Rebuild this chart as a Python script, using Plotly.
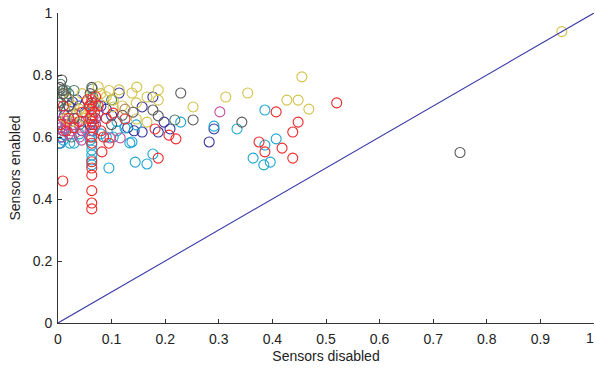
import plotly.graph_objects as go

# ---- data ----
navy_x = [0.005, 0.010, 0.015, 0.020, 0.027, 0.035, 0.040, 0.050, 0.060, 0.065, 0.070, 0.080, 0.090, 0.100,
          0.114, 0.157, 0.177, 0.198, 0.187, 0.157, 0.209, 0.282, 0.291, 0.142, 0.130, 0.003, 0.012, 0.045]
navy_y = [0.600, 0.620, 0.640, 0.700, 0.713, 0.720, 0.700, 0.680, 0.640, 0.620, 0.660, 0.700, 0.690, 0.670,
          0.742, 0.697, 0.729, 0.648, 0.616, 0.616, 0.626, 0.584, 0.626, 0.620, 0.630, 0.580, 0.670, 0.620]

cyan_x = [0.063, 0.063, 0.063, 0.063, 0.063, 0.095, 0.103, 0.125, 0.134, 0.146, 0.138, 0.144, 0.166, 0.177,
          0.229, 0.334, 0.291, 0.386, 0.407, 0.386, 0.364, 0.396, 0.384, 0.005, 0.005, 0.010, 0.022, 0.030,
          0.060, 0.065, 0.063, 0.070, 0.080, 0.090, 0.015, 0.040, 0.110, 0.110, 0.060, 0.066]
cyan_y = [0.574, 0.558, 0.542, 0.526, 0.510, 0.500, 0.600, 0.629, 0.581, 0.639, 0.584, 0.519, 0.513, 0.545,
          0.648, 0.626, 0.635, 0.687, 0.594, 0.574, 0.532, 0.519, 0.510, 0.580, 0.600, 0.590, 0.580, 0.580,
          0.600, 0.620, 0.660, 0.640, 0.610, 0.600, 0.630, 0.610, 0.620, 0.650, 0.590, 0.700]

green_x = [0.010, 0.000, 0.015, 0.020, 0.030, 0.064, 0.065, 0.070, 0.218, 0.000, 0.040, 0.012, 0.100, 0.025,
           0.005, 0.060]
green_y = [0.750, 0.713, 0.750, 0.740, 0.750, 0.755, 0.730, 0.710, 0.655, 0.648, 0.640, 0.690, 0.720, 0.600,
           0.770, 0.700]

magenta_x = [0.302, 0.116, 0.005, 0.010, 0.015, 0.020, 0.010, 0.030, 0.040, 0.060, 0.065, 0.070, 0.050, 0.097,
             0.075, 0.025, 0.044, 0.003, 0.018, 0.035, 0.008, 0.028]
magenta_y = [0.681, 0.597, 0.630, 0.620, 0.650, 0.610, 0.660, 0.640, 0.600, 0.620, 0.660, 0.640, 0.630, 0.597,
             0.680, 0.620, 0.590, 0.650, 0.670, 0.660, 0.600, 0.640]

yellow_x = [0.455, 0.427, 0.448, 0.468, 0.313, 0.354, 0.252, 0.147, 0.187, 0.187, 0.166, 0.146, 0.146, 0.166,
            0.138, 0.114, 0.103, 0.103, 0.075, 0.080, 0.035, 0.040, 0.045, 0.030, 0.020, 0.010, 0.050, 0.090,
            0.095, 0.120, 0.940, 0.070, 0.060, 0.025, 0.015]
yellow_y = [0.794, 0.719, 0.719, 0.690, 0.729, 0.742, 0.697, 0.761, 0.752, 0.719, 0.729, 0.710, 0.658, 0.648,
            0.742, 0.752, 0.719, 0.697, 0.762, 0.740, 0.677, 0.690, 0.740, 0.700, 0.720, 0.740, 0.660, 0.730,
            0.750, 0.700, 0.940, 0.700, 0.680, 0.650, 0.660]

gray_x = [0.750, 0.007, 0.003, 0.008, 0.010, 0.015, 0.005, 0.020, 0.229, 0.177, 0.187, 0.252, 0.343, 0.063,
          0.060, 0.030, 0.100, 0.120, 0.140, 0.000]
gray_y = [0.550, 0.784, 0.760, 0.750, 0.740, 0.730, 0.710, 0.700, 0.742, 0.687, 0.668, 0.655, 0.648, 0.760,
          0.740, 0.660, 0.640, 0.670, 0.680, 0.700]

red_x = [0.009, 0.063, 0.063, 0.063, 0.063, 0.063, 0.063, 0.082, 0.063, 0.063, 0.063, 0.063, 0.063, 0.063,
         0.058, 0.068, 0.060, 0.066, 0.055, 0.070, 0.020, 0.010, 0.030, 0.040, 0.045, 0.075, 0.080, 0.085,
         0.090, 0.103, 0.125, 0.181, 0.207, 0.220, 0.187, 0.407, 0.448, 0.438, 0.375, 0.386, 0.418, 0.438,
         0.520, 0.005, 0.015, 0.095, 0.063, 0.063]
red_y = [0.458, 0.427, 0.387, 0.368, 0.477, 0.520, 0.500, 0.552, 0.630, 0.650, 0.670, 0.690, 0.710, 0.720,
         0.700, 0.680, 0.660, 0.640, 0.720, 0.730, 0.660, 0.700, 0.630, 0.650, 0.680, 0.700, 0.620, 0.600,
         0.660, 0.677, 0.658, 0.626, 0.606, 0.594, 0.532, 0.681, 0.648, 0.616, 0.584, 0.552, 0.564, 0.532,
         0.710, 0.640, 0.620, 0.580, 0.600, 0.580]

brown_x = [0.125]
brown_y = [0.690]

diag_x = [0, 1]
diag_y = [0, 1]

x_ticks = [0, 0.1, 0.2, 0.3, 0.4, 0.5, 0.6, 0.7, 0.8, 0.9, 1]
x_labels = ["0", "0.1", "0.2", "0.3", "0.4", "0.5", "0.6", "0.7", "0.8", "0.9", "1"]
y_ticks = [0, 0.2, 0.4, 0.6, 0.8, 1]
y_labels = ["0", "0.2", "0.4", "0.6", "0.8", "1"]

series = [
    (navy_x, navy_y, "#34349e"),
    (cyan_x, cyan_y, "#1ea6d2"),
    (green_x, green_y, "#4a7f6c"),
    (magenta_x, magenta_y, "#c2509c"),
    (yellow_x, yellow_y, "#d3c24a"),
    (gray_x, gray_y, "#5a5a5a"),
    (red_x, red_y, "#ee2a2a"),
    (brown_x, brown_y, "#b68a5c"),
]

fig = go.Figure()
for xs, ys, col in series:
    fig.add_trace(go.Scatter(
        x=xs, y=ys, mode="markers",
        marker=dict(symbol="circle-open", size=10, color=col, line=dict(width=1.1, color=col)),
        showlegend=False, hoverinfo="skip"))

fig.add_trace(go.Scatter(x=diag_x, y=diag_y, mode="lines",
                         line=dict(color="#3a3aa8", width=1.1), showlegend=False, hoverinfo="skip"))

font = "Liberation Sans, Arial, Helvetica, sans-serif"
tick_font = dict(family=font, size=14, color="#222222")
axis_common = dict(
    range=[0, 1], showgrid=False, zeroline=False, showline=True, linecolor="#333333", linewidth=1,
    ticks="inside", ticklen=4, tickcolor="#333333", mirror=False, tickfont=tick_font,
)
fig.update_layout(
    width=595, height=369,
    margin=dict(l=58, r=1, t=13, b=46),
    paper_bgcolor="white", plot_bgcolor="white",
    xaxis=dict(**axis_common, tickvals=x_ticks[:-1], ticktext=x_labels[:-1], ticklabelstandoff=3,
               title=dict(text="Sensors disabled", font=dict(family=font, size=14, color="#222222"), standoff=5)),
    yaxis=dict(**axis_common, tickvals=y_ticks, ticktext=y_labels, ticklabelstandoff=2,
               title=dict(text="Sensors enabled", font=dict(family=font, size=14, color="#222222"), standoff=8)),
)
# last x tick: label sits at the very right edge of the figure
fig.add_annotation(x=x_ticks[-1], y=0, xref="x", yref="paper", text=x_labels[-1], showarrow=False,
                   xanchor="right", yanchor="top", yshift=-6, xshift=1, borderpad=0, font=tick_font)

fig.write_html("out.html")
